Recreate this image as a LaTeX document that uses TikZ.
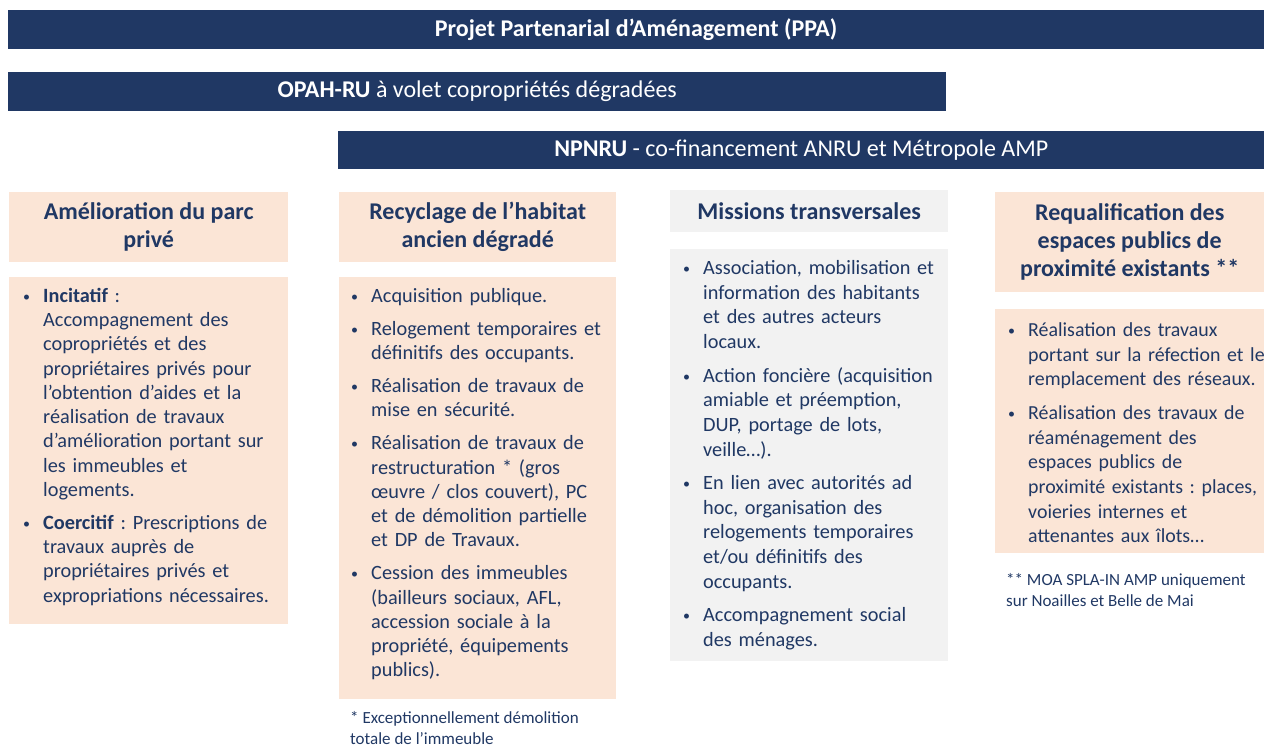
\documentclass[tikz,border=0pt]{standalone}
\usepackage{fontspec}
\setmainfont{Carlito}
\usetikzlibrary{positioning}

\definecolor{marine}{RGB}{32,56,100}
\definecolor{saumon}{RGB}{251,229,214}
\definecolor{grisclair}{RGB}{242,242,242}

% one bullet item, hanging indent for the following lines
\newcommand{\puce}[1]{\par\hangindent=21pt\hangafter=1\noindent\strut\makebox[21pt][l]{\hspace{1pt}\raisebox{1pt}{\fontsize{14}{14}\selectfont\textbullet}}#1\par}

\begin{document}
\frenchspacing
\begin{tikzpicture}[x=1pt, y=-1pt]
        \tikzset{
        bandeau/.style = {fill=marine, text=white, inner sep=0pt, anchor=north west, font=\fontsize{24}{28}\selectfont},
        titre/.style   = {inner sep=0pt, anchor=north west, align=center, text=marine, font=\fontsize{24}{28}\selectfont\bfseries},
        corps/.style   = {inner sep=0pt, anchor=north west},
        liste/.style   = {inner sep=0pt, anchor=north west, text width=270pt, align=left, text=marine,
                          font=\fontsize{20.3}{24.25}\selectfont, execute at begin node={\setlength{\parskip}{8.8pt}}},
        large/.style   = {font=\fontsize{20.3}{24.65}\selectfont},
        serre/.style   = {font=\fontsize{19.9}{24.65}\selectfont},
        note/.style    = {inner sep=0pt, anchor=north west, align=left, text=marine, font=\fontsize{17}{20.5}\selectfont}
        }
        \useasboundingbox (0,0) rectangle (1264,747);

        % Bandeaux
        \node[bandeau, minimum width=1256pt, minimum height=39pt] (ppa) at (8,10) {\bfseries Projet Partenarial d’Aménagement (PPA)};
        \node[bandeau, minimum width=938pt, minimum height=39pt] (opah) at (8,72) {\textbf{OPAH-RU} à volet copropriétés dégradées};
        \node[bandeau, minimum width=926pt, minimum height=38pt] (npnru) at (338,131) {\textbf{NPNRU} - co-financement ANRU et Métropole AMP};

        % Titres des colonnes
        \node[titre, fill=saumon, minimum width=279pt, minimum height=70pt] (titre1) at (9,192) {Amélioration du parc\\privé};
        \node[titre, fill=saumon, minimum width=277pt, minimum height=70pt] (titre2) at (339,192) {Recyclage de l’habitat\\ancien dégradé};
        \node[titre, fill=grisclair, minimum width=278pt, minimum height=42pt] (titre3) at (670,190) {Missions transversales};
        \node[titre, fill=saumon, minimum width=269pt, minimum height=100pt] (titre4) at (995,192) {Requalification des\\espaces publics de\\proximité existants **};

        % Fonds des listes
        \node[corps, fill=saumon, minimum width=279pt, minimum height=347pt] (corps1) at (9,277) {};
        \node[corps, fill=saumon, minimum width=277pt, minimum height=422pt] (corps2) at (339,277) {};
        \node[corps, fill=grisclair, minimum width=278pt, minimum height=412pt] (corps3) at (670,249) {};
        \node[corps, fill=saumon, minimum width=269pt, minimum height=244pt] (corps4) at (995,309) {};

        % Listes
        \node[liste] (liste1) at ([xshift=13pt, yshift=8pt]corps1.north west) {%
        \puce{\textbf{Incitatif} :\newline Accompagnement des\newline copropriétés et des\newline propriétaires privés pour\newline l’obtention d’aides et la\newline réalisation de travaux\newline d’amélioration portant sur\newline les immeubles et\newline logements.}
        \puce{\textbf{Coercitif} : Prescriptions de\newline travaux auprès de\newline propriétaires privés et\newline expropriations nécessaires.}};
        \node[liste] (liste2) at ([xshift=11pt, yshift=8pt]corps2.north west) {%
        \puce{Acquisition publique.}
        \puce{Relogement temporaires et\newline définitifs des occupants.}
        \puce{Réalisation de travaux de\newline mise en sécurité.}
        \puce{Réalisation de travaux de\newline restructuration * (gros\newline œuvre / clos couvert), PC\newline et de démolition partielle\newline et DP de Travaux.}
        \puce{Cession des immeubles\newline (bailleurs sociaux, AFL,\newline accession sociale à la\newline propriété, équipements\newline publics).}};
        \node[liste, large] (liste3) at ([xshift=12pt, yshift=8pt]corps3.north west) {%
        \puce{Association, mobilisation et\newline information des habitants\newline et des autres acteurs\newline locaux.}
        \puce{Action foncière (acquisition\newline amiable et préemption,\newline DUP, portage de lots,\newline veille…).}
        \puce{En lien avec autorités ad\newline hoc, organisation des\newline relogements temporaires\newline et/ou définitifs des\newline occupants.}
        \puce{Accompagnement social\newline des ménages.}};
        \node[liste, serre] (liste4) at ([xshift=12pt, yshift=6pt]corps4.north west) {%
        \puce{Réalisation des travaux\newline portant sur la réfection et le\newline remplacement des réseaux.}
        \puce{Réalisation des travaux de\newline réaménagement des\newline espaces publics de\newline proximité existants : places,\newline voieries internes et\newline attenantes aux îlots…}};

        % Notes
        \node[note] (note2) at (350,709) {\strut * Exceptionnellement démolition\\totale de l’immeuble};
        \node[note] (note4) at (1006,571) {\strut ** MOA SPLA-IN AMP uniquement\\sur Noailles et Belle de Mai};
    \end{tikzpicture}
\end{document}
